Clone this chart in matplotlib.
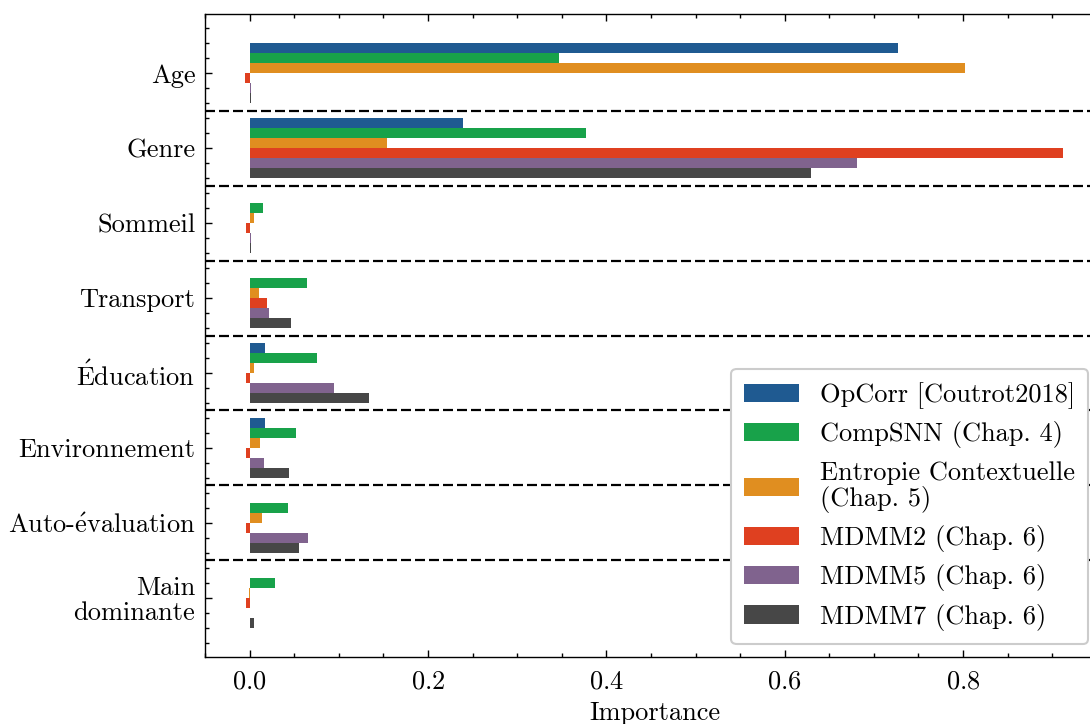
import matplotlib
matplotlib.use("Agg")
import matplotlib.pyplot as plt
import numpy as np
from matplotlib.ticker import MultipleLocator

plt.rcParams['font.family'] = ['cmr10', 'DejaVu Serif']
plt.rcParams['mathtext.fontset'] = 'cm'
plt.rcParams['axes.formatter.use_mathtext'] = True
plt.rcParams['axes.unicode_minus'] = False

categories = ["Age", "Genre", "Sommeil", "Transport", r"$\mathrm{\acute{E}}$ducation",
              "Environnement", r"Auto-$\mathrm{\acute{e}}$valuation", "Main\ndominante"]
series_names = ["OpCorr [Coutrot2018]", "CompSNN (Chap. 4)",
                "Entropie Contextuelle\n(Chap. 5)", "MDMM2 (Chap. 6)",
                "MDMM5 (Chap. 6)", "MDMM7 (Chap. 6)"]
opcorr  = [0.727, 0.239, 0.001, 0.001, 0.017, 0.017, 0.000, 0.000]
compsnn = [0.347, 0.377, 0.015, 0.064, 0.076, 0.052, 0.043, 0.028]
entropie = [0.802, 0.154, 0.0045, 0.010, 0.0045, 0.012, 0.0135, -0.001]
mdmm2   = [-0.005, 0.912, -0.004, 0.020, -0.004, -0.004, -0.004, -0.004]
mdmm5   = [0.0015, 0.681, 0.002, 0.022, 0.095, 0.016, 0.065, 0.001]
mdmm7   = [0.002, 0.630, 0.002, 0.046, 0.134, 0.044, 0.055, 0.0045]
colors = ["#1F5A91", "#18A24A", "#E08E20", "#DF4020", "#80638E", "#474747"]

all_series = [opcorr, compsnn, entropie, mdmm2, mdmm5, mdmm7]

FS = 19

fig = plt.figure(figsize=(10.9, 7.24), dpi=100)
ax = fig.add_axes([205/1090, 1-657/724, (1104-205)/1090, (657-14)/724])

n = len(all_series)
h = 0.8 / n
y = np.arange(len(categories))
for i, (vals, name, c) in enumerate(zip(all_series, series_names, colors)):
    ax.barh(y - 0.4 + h*(i+0.5), vals, height=h, color=c, label=name, linewidth=0)

for k in range(len(categories) - 1):
    ax.axhline(k + 0.5, color='black', lw=1.6, ls=(0, (4.5, 1.8)))

ax.set_yticks(y)
ax.set_yticklabels(categories, fontsize=FS, linespacing=1.05)
ax.yaxis.set_minor_locator(MultipleLocator(0.2))
ax.xaxis.set_major_locator(MultipleLocator(0.2))
ax.xaxis.set_minor_locator(MultipleLocator(0.05))
ax.set_xlim(-0.05, 0.958)
ax.set_ylim(7.79, -0.79)
ax.tick_params(axis='both', which='both', direction='in', top=True, right=True,
               labelsize=FS, width=1.0)
ax.tick_params(which='major', length=5)
ax.tick_params(which='minor', length=3)
ax.tick_params(axis='x', which='major', pad=9)
ax.tick_params(axis='y', which='major', pad=7)
for s in ax.spines.values():
    s.set_linewidth(1.0)
ax.set_xlabel("Importance", fontsize=FS, labelpad=6)

leg = ax.legend(loc='lower right', bbox_to_anchor=((1088-205)/(1104-205), (657-644)/643),
                fontsize=FS, frameon=True, fancybox=True, edgecolor='#cccccc',
                framealpha=1.0, handlelength=2.05, handleheight=0.7,
                labelspacing=0.47, borderpad=0.5, handletextpad=0.8,
                borderaxespad=0.0)
leg.get_frame().set_linewidth(1.5)
for t in leg.get_texts():
    t.set_linespacing(1.05)

fig.savefig("out.png", dpi=100)
